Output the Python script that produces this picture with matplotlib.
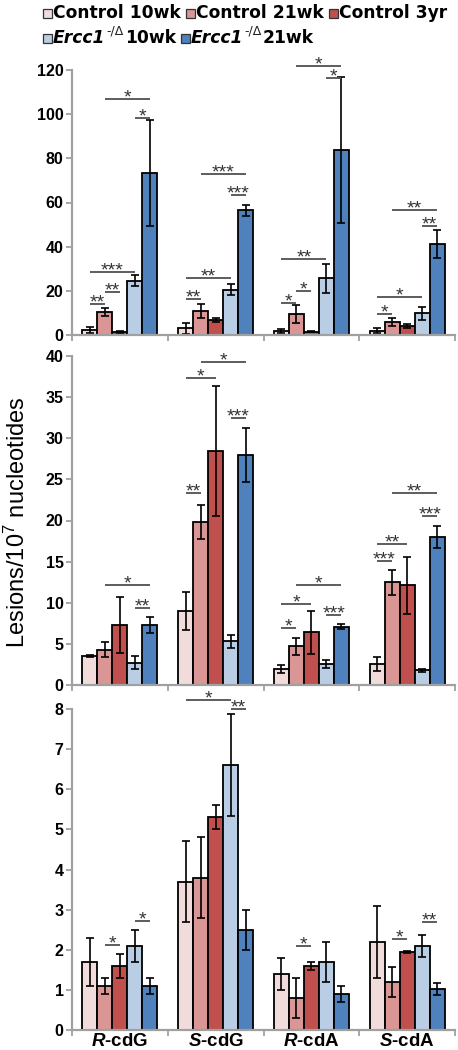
import matplotlib
matplotlib.use("Agg")
import matplotlib.pyplot as plt
from matplotlib.patches import Rectangle
import numpy as np

plt.rcParams['font.family'] = ['Liberation Sans', 'DejaVu Sans']
plt.rcParams['mathtext.fontset'] = 'custom'
plt.rcParams['mathtext.rm'] = 'Liberation Sans'
plt.rcParams['mathtext.it'] = 'Liberation Sans:italic:bold'
plt.rcParams['mathtext.bf'] = 'Liberation Sans:bold'

# ---------------- data ----------------
categories = [r'$\it{R}$-cdG', r'$\it{S}$-cdG', r'$\it{R}$-cdA', r'$\it{S}$-cdA']
series_names = ['Control 10wk', 'Control 21wk', 'Control 3yr',
                'Ercc1 -/Δ 10wk', 'Ercc1 -/Δ 21wk']
colors = ['#F2DCDB', '#D99694', '#C0504D', '#B9CDE5', '#4F81BD']

# panel 1 (top)
top_c10 = [2.1, 3.0, 1.8, 2.0]
top_c21 = [10.3, 10.8, 9.5, 5.9]
top_c3 = [1.3, 6.9, 1.5, 4.0]
top_e10 = [24.5, 20.5, 25.7, 9.8]
top_e21 = [73.5, 56.5, 83.8, 41.2]
top_c10_err = [1.3, 2.5, 0.7, 1.2]
top_c21_err = [1.8, 3.2, 4.0, 1.6]
top_c3_err = [0.3, 1.0, 0.3, 1.0]
top_e10_err = [2.5, 2.5, 6.5, 2.8]
top_e21_err = [24.0, 2.5, 33.0, 6.5]

# panel 2 (middle)
mid_c10 = [3.5, 9.0, 1.9, 2.55]
mid_c21 = [4.3, 19.8, 4.7, 12.5]
mid_c3 = [7.3, 28.5, 6.4, 12.1]
mid_e10 = [2.7, 5.3, 2.6, 1.8]
mid_e21 = [7.3, 28.0, 7.1, 18.0]
mid_c10_err = [0.15, 2.3, 0.5, 0.85]
mid_c21_err = [0.9, 2.1, 1.0, 1.5]
mid_c3_err = [3.4, 7.9, 2.6, 3.5]
mid_e10_err = [0.8, 0.8, 0.5, 0.2]
mid_e21_err = [1.0, 3.3, 0.35, 1.35]

# panel 3 (bottom)
bot_c10 = [1.7, 3.7, 1.4, 2.2]
bot_c21 = [1.1, 3.8, 0.8, 1.2]
bot_c3 = [1.6, 5.3, 1.6, 1.95]
bot_e10 = [2.1, 6.6, 1.7, 2.1]
bot_e21 = [1.1, 2.5, 0.9, 1.02]
bot_c10_err = [0.6, 1.0, 0.4, 0.9]
bot_c21_err = [0.2, 1.0, 0.5, 0.38]
bot_c3_err = [0.3, 0.3, 0.1, 0.03]
bot_e10_err = [0.4, 1.27, 0.5, 0.28]
bot_e21_err = [0.2, 0.5, 0.2, 0.15]

# significance: (group, series_i, series_j, y, label)
top_sig = [(0, 0, 1, 13.9, '**'), (0, 1, 2, 19.3, '**'), (0, 0, 3, 28.7, '***'),
           (0, 1, 4, 106.7, '*'), (0, 3, 4, 98.4, '*'),
           (1, 0, 1, 16.3, '**'), (1, 0, 3, 25.7, '**'), (1, 1, 4, 72.8, '***'),
           (1, 3, 4, 63.5, '***'),
           (2, 0, 1, 14.3, '*'), (2, 1, 2, 19.9, '*'), (2, 0, 3, 34.3, '**'),
           (2, 1, 4, 122.0, '*'), (2, 3, 4, 116.5, '*'),
           (3, 0, 1, 9.4, '*'), (3, 0, 3, 17.1, '*'), (3, 1, 4, 56.8, '**'),
           (3, 3, 4, 49.5, '**')]
mid_sig = [(0, 1, 4, 12.1, '*'), (0, 3, 4, 9.4, '**'),
           (1, 0, 2, 37.3, '*'), (1, 1, 4, 39.3, '*'), (1, 0, 1, 23.4, '**'),
           (1, 3, 4, 32.5, '***'),
           (2, 0, 1, 6.9, '*'), (2, 0, 2, 9.85, '*'), (2, 1, 4, 12.2, '*'),
           (2, 3, 4, 8.55, '***'),
           (3, 0, 1, 15.1, '***'), (3, 0, 2, 17.1, '**'), (3, 1, 4, 23.4, '**'),
           (3, 3, 4, 20.5, '***')]
bot_sig = [(0, 1, 2, 2.13, '*'), (0, 3, 4, 2.72, '*'),
           (1, 0, 3, 8.22, '*'), (1, 3, 4, 8.0, '**'),
           (2, 1, 2, 2.09, '*'),
           (3, 1, 2, 2.28, '*'), (3, 3, 4, 2.70, '**')]

top_vals = [top_c10, top_c21, top_c3, top_e10, top_e21]
top_errs = [top_c10_err, top_c21_err, top_c3_err, top_e10_err, top_e21_err]
mid_vals = [mid_c10, mid_c21, mid_c3, mid_e10, mid_e21]
mid_errs = [mid_c10_err, mid_c21_err, mid_c3_err, mid_e10_err, mid_e21_err]
bot_vals = [bot_c10, bot_c21, bot_c3, bot_e10, bot_e21]
bot_errs = [bot_c10_err, bot_c21_err, bot_c3_err, bot_e10_err, bot_e21_err]

# ---------------- figure ----------------
W, H = 458, 1050
fig = plt.figure(figsize=(W / 100, H / 100), dpi=100)

def frac(left, top, right, bottom):
    return [left / W, 1 - bottom / H, (right - left) / W, (bottom - top) / H]

AX_GRAY = '#A0A0A0'
bw = 0.157
offsets = (np.arange(5) - 2) * bw
gx = np.arange(4) + 0.5

def panel(rect, vals, errs, sig, ymax, ystep, show_labels):
    ax = fig.add_axes(rect)
    for k in range(5):
        ax.bar(gx + offsets[k], vals[k], width=bw, color=colors[k],
               edgecolor='black', linewidth=1.3, zorder=2,
               yerr=errs[k], error_kw=dict(ecolor='black', elinewidth=1.2,
                                           capsize=3, capthick=1.2))
    ax.set_xlim(0, 4)
    ax.set_ylim(0, ymax)
    ax.set_yticks(np.arange(0, ymax + 0.001, ystep))
    ax.set_yticklabels([f'{int(v)}' for v in np.arange(0, ymax + 0.001, ystep)],
                       fontsize=11.5, fontweight='bold')
    ax.set_xticks(np.arange(0, 5))
    ax.set_xticklabels([])
    ax.tick_params(axis='x', which='major', direction='out', length=4,
                   width=1.3, color=AX_GRAY)
    ax.tick_params(axis='y', direction='out', length=4, width=1.3,
                   color=AX_GRAY, pad=2)
    if show_labels:
        ax.set_xticks(gx, minor=True)
        ax.set_xticklabels(categories, minor=True, fontsize=13.5,
                           fontweight='bold')
        ax.tick_params(axis='x', which='minor', length=0, pad=2)
    for s in ['top', 'right']:
        ax.spines[s].set_visible(False)
    for s in ['left', 'bottom']:
        ax.spines[s].set_color(AX_GRAY)
        ax.spines[s].set_linewidth(1.6)
    for (g, i, j, y, lab) in sig:
        x0 = gx[g] + offsets[i]
        x1 = gx[g] + offsets[j]
        ax.plot([x0, x1], [y, y], color='#505050', lw=1.3, clip_on=False,
                zorder=3, solid_capstyle='butt')
        ax.annotate(lab, xy=((x0 + x1) / 2, y), xytext=(0, -2.5),
                    textcoords='offset points', ha='center', va='baseline',
                    fontsize=14, color='#333333', annotation_clip=False)
    return ax

ax1 = panel(frac(72, 70, 455, 335), top_vals, top_errs, top_sig, 120, 20, False)
ax2 = panel(frac(72, 356, 455, 685), mid_vals, mid_errs, mid_sig, 40, 5, False)
ax3 = panel(frac(72, 709, 455, 1030), bot_vals, bot_errs, bot_sig, 8, 1, True)

fig.text(17 / W, 1 - 522 / H, r'Lesions/10$^{7}$ nucleotides', rotation=90,
         ha='center', va='center', fontsize=17)

# ---------------- legend (manual, two rows) ----------------
renderer = fig.canvas.get_renderer()
LEG_FONT = 'DejaVu Sans'
LEG_SIZE = 12.3

def put(x, y_base, s, **kw):
    t = fig.text(x / W, 1 - y_base / H, s, ha='left', va='baseline',
                 family=LEG_FONT, **kw)
    return t.get_window_extent(renderer).x1

def legend_row(x_start, y_base, items, gap=5):
    x = x_start
    for pieces, col in items:
        sq = 9
        fig.add_artist(Rectangle((x / W, 1 - y_base / H), sq / W, sq / H,
                                 transform=fig.transFigure, facecolor=col,
                                 edgecolor='#333333', lw=0.9))
        x = x + sq + 1
        for s, kind in pieces:
            if kind == 'b':
                x = put(x, y_base, s, fontsize=LEG_SIZE, fontweight='bold')
            elif kind == 'bi':
                x = put(x, y_base, s, fontsize=LEG_SIZE, fontweight='bold',
                        fontstyle='italic') + 1
            else:
                x = put(x, y_base - 8, s, fontsize=9, color='#222222') + 1
        x += gap

name_parts = []
for nm in series_names:
    if nm.startswith('Ercc1'):
        _, sup, age = nm.split(' ')
        name_parts.append([('Ercc1', 'bi'), (sup, 'sup'), (age, 'b')])
    else:
        name_parts.append([(nm, 'b')])

legend_row(43, 18, [(name_parts[k], colors[k]) for k in range(3)])
legend_row(43, 43, [(name_parts[k], colors[k]) for k in range(3, 5)])

fig.savefig('out.png', dpi=100)
